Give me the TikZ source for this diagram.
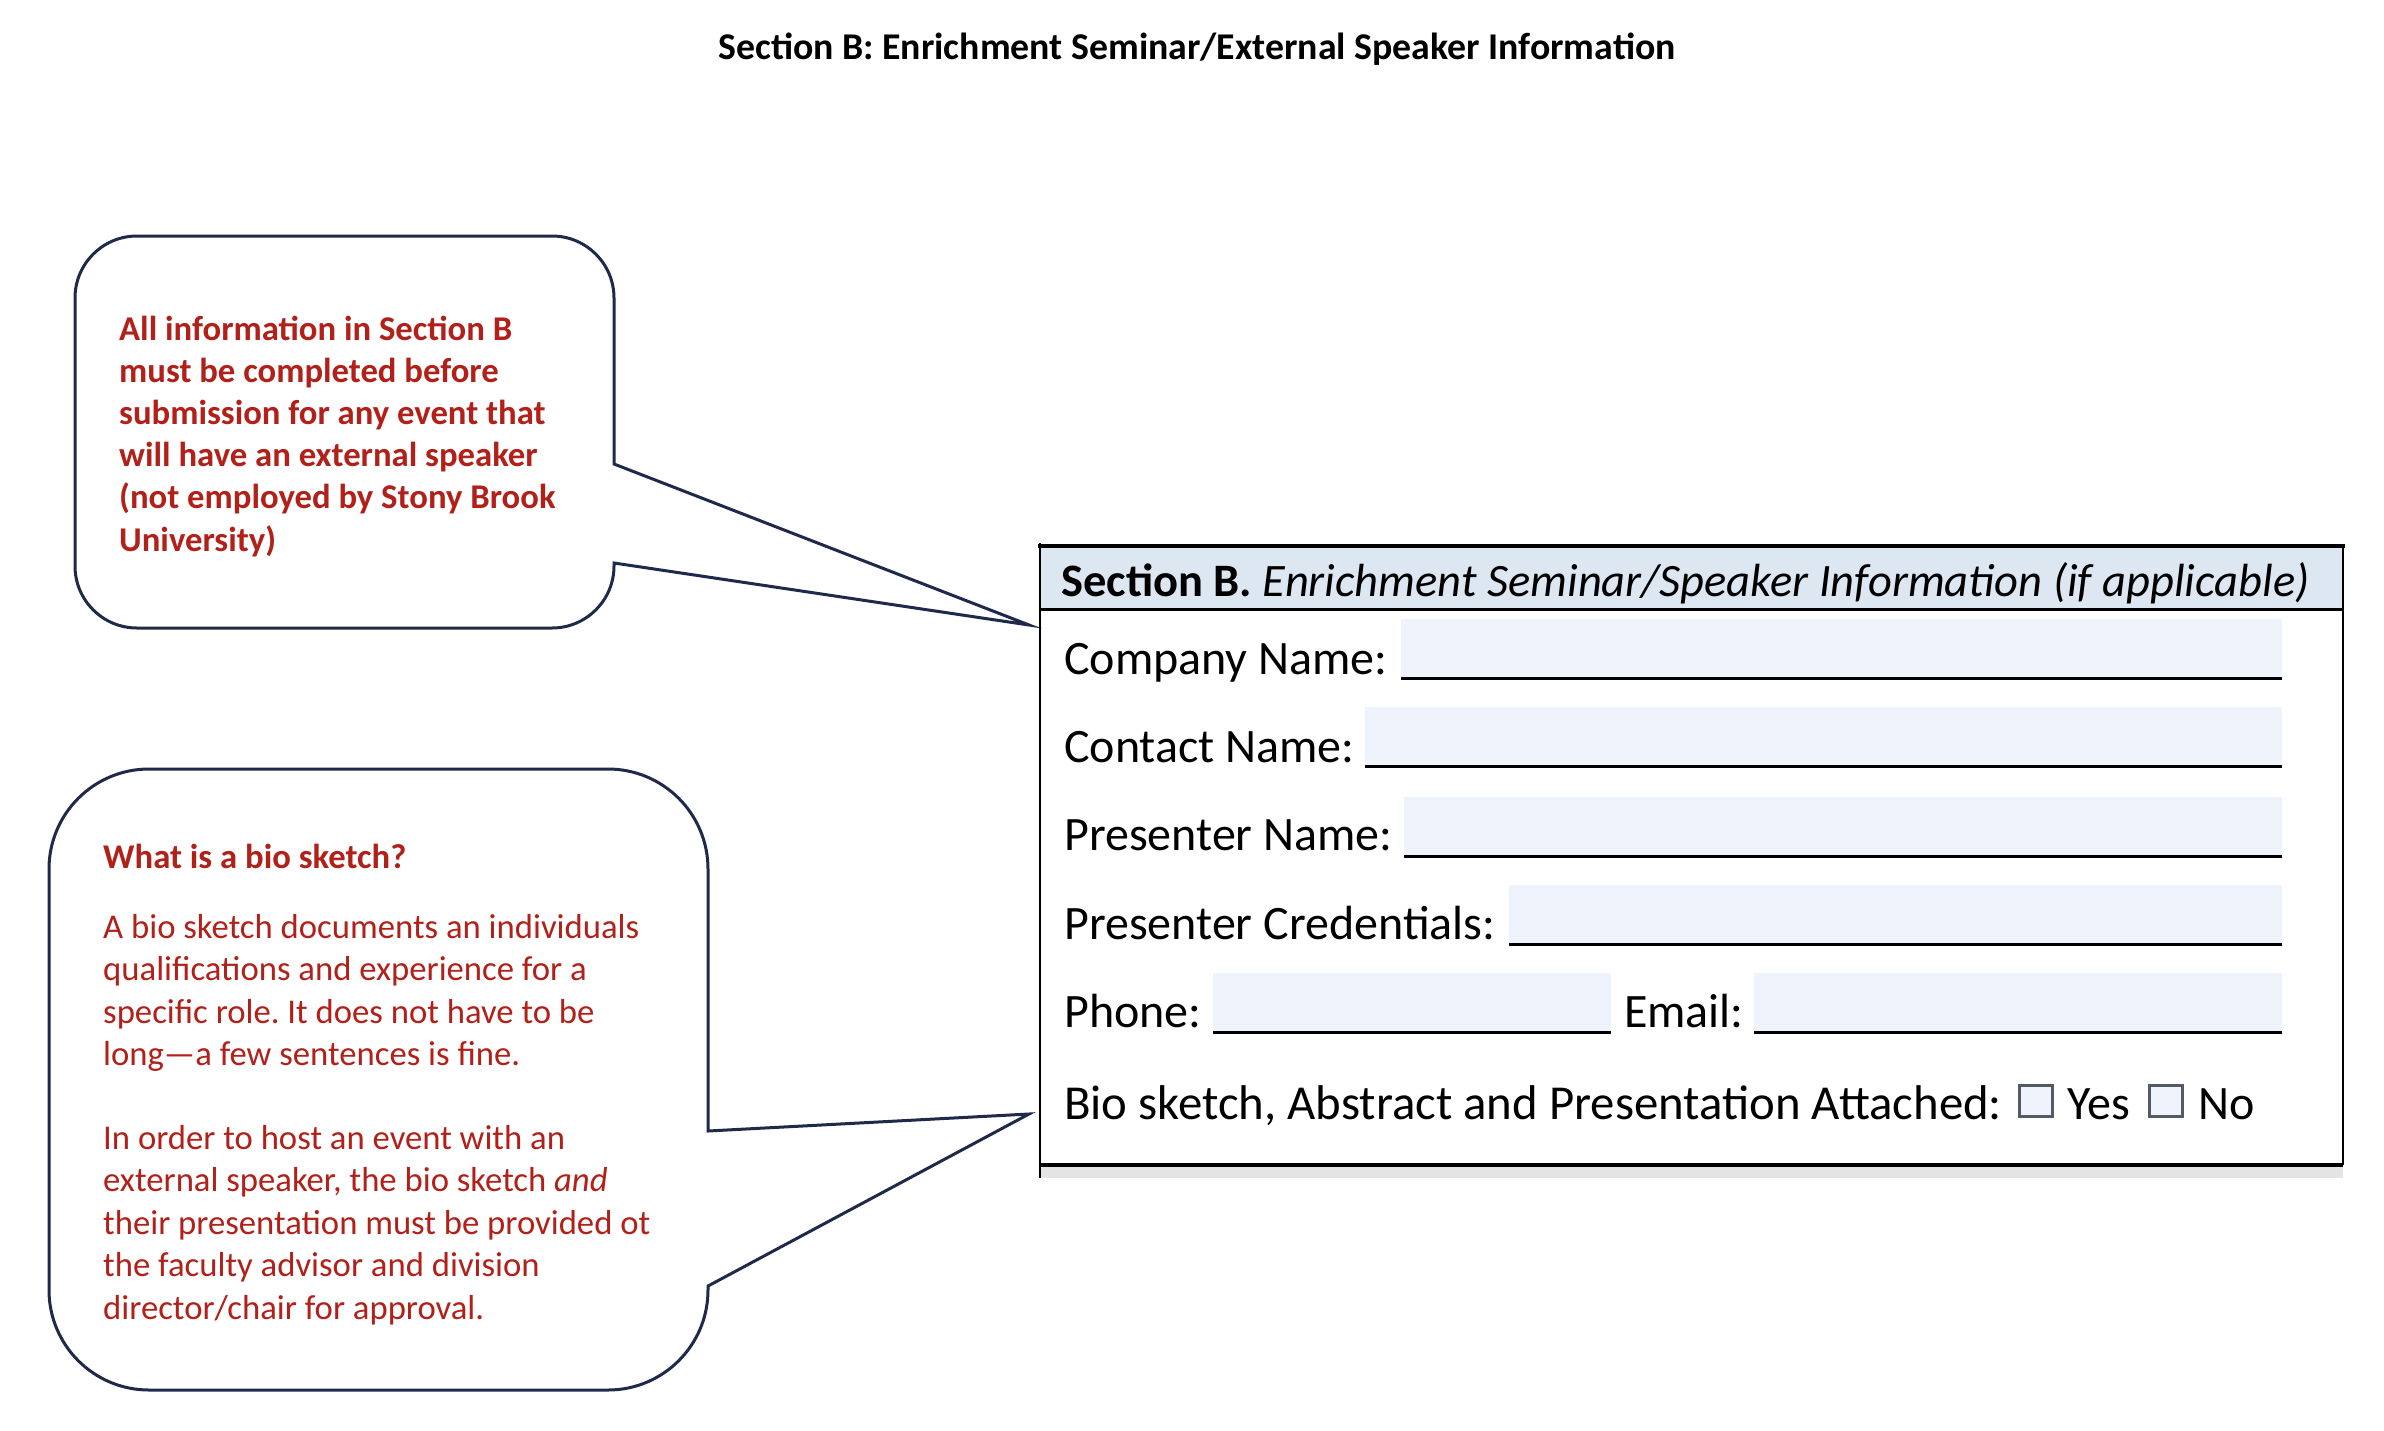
\documentclass[tikz,border=0pt]{standalone}
\usepackage{fontspec}
\setmainfont{Carlito}
\frenchspacing
\definecolor{calloutred}{RGB}{178,32,26}
\definecolor{navy}{RGB}{31,42,74}
\definecolor{hdrfill}{RGB}{221,231,242}
\definecolor{fieldfill}{RGB}{239,243,252}
\definecolor{stripgray}{RGB}{228,228,228}
\definecolor{boxgray}{RGB}{85,90,100}
\begin{document}
\begin{tikzpicture}[x=1pt,y=-1pt,
  callout/.style={draw=navy, line width=3pt, fill=white, line join=miter},
  ctextb/.style={anchor=base west, inner sep=0pt, text=calloutred, font=\bfseries\fontsize{34.7}{42}\selectfont},
  ctext/.style={anchor=base west, inner sep=0pt, text=calloutred, font=\fontsize{34.7}{42}\selectfont},
  lbl/.style={anchor=base west, inner sep=0pt, font=\fontsize{48}{58}\selectfont},
  field/.style={fill=fieldfill, inner sep=0pt, anchor=north west, minimum height=59pt},
  uline/.style={line width=3.5pt, black},
  chk/.style={draw=boxgray, fill=fieldfill, line width=3pt, minimum width=33pt, minimum height=31pt, inner sep=0pt, anchor=south west}
]
\useasboundingbox (0,0) rectangle (2384,1430);
\fill[white] (0,0) rectangle (2384,1430);

% title
\node[anchor=base, inner sep=0pt, font=\bfseries\fontsize{37.8}{44}\selectfont] (title) at (1197,59) {Section B: Enrichment Seminar/External Speaker Information};

% callout tips
\coordinate (tip1) at (1029,625);
\coordinate (tip2) at (1029,1114);

% callout 1
\draw[callout] (137,236) -- (552,236) arc[start angle=-90,end angle=0,radius=62]
  -- (614,464) -- (tip1) -- (614,563) -- (614,566) arc[start angle=0,end angle=90,radius=62]
  -- (137,628) arc[start angle=90,end angle=180,radius=62]
  -- (75,298) arc[start angle=180,end angle=270,radius=62] -- cycle;

% callout 2
\draw[callout] (149,769) -- (608,769) arc[start angle=-90,end angle=0,radius=100]
  -- (708,1131) -- (tip2) -- (708,1286) -- (708,1290) arc[start angle=0,end angle=90,radius=100]
  -- (149,1390) arc[start angle=90,end angle=180,radius=100]
  -- (49,869) arc[start angle=180,end angle=270,radius=100] -- cycle;

% callout 1 text
\foreach \t [count=\i from 0] in {{All information in Section B},{must be completed before},{submission for any event that},{will have an external speaker},{(not employed by Stony Brook},{University)}}
  \node[ctextb] (aa\i) at (119,{340+42.2*\i}) {\t};

% callout 2 text
\node[ctextb] (bioq) at (103,868) {What is a bio sketch?};
\foreach \t [count=\i from 0] in {{A bio sketch documents an individuals},{qualifications and experience for a},{specific role. It does not have to be},{long—a few sentences is fine.}}
  \node[ctext] (pa\i) at (103,{938+42.5*\i}) {\t};
\foreach \t [count=\i from 0] in {{In order to host an event with an},{external speaker, the bio sketch \textit{and}},{their presentation must be provided ot},{the faculty advisor and division},{director/chair for approval.}}
  \node[ctext] (pb\i) at (103,{1149+42.5*\i}) {\t};

% form frame
\fill[hdrfill] (1040,547) rectangle (2343,609);
\fill[stripgray] (1040,1165) rectangle (2343,1178);
\draw[line width=4pt] (1038,546) -- (2345,546);
\draw[line width=3pt] (1040,609) -- (2343,609);
\draw[line width=3.5pt] (1040,1165) -- (2343,1165);
\draw[line width=2.5pt] (1040,543) -- (1040,1178);
\draw[line width=2pt] (2343,547) -- (2343,1165);

\node[lbl, font=\fontsize{46.5}{56}\selectfont] (hdr) at (1061,596) {\textbf{Section B.} \textit{Enrichment Seminar/Speaker Information (if applicable)}};

% fields
\node[field, minimum width=881pt] (fcomp) at (1401,619) {};
\node[field, minimum width=917pt] (fcont) at (1365,707) {};
\node[field, minimum width=878pt] (fpres) at (1404,797) {};
\node[field, minimum width=773pt] (fcred) at (1509,885) {};
\node[field, minimum width=398pt] (fphone) at (1213,973) {};
\node[field, minimum width=528pt] (femail) at (1754,973) {};
\foreach \f in {fcomp,fcont,fpres,fcred,fphone,femail}
  \draw[uline] (\f.south west) -- (\f.south east);

\node[lbl] (lcomp) at (1064,674) {Company Name:};
\node[lbl] (lcont) at (1064,762) {Contact Name:};
\node[lbl] (lpres) at (1064,850) {Presenter Name:};
\node[lbl] (lcred) at (1064,939) {Presenter Credentials:};
\node[lbl] (lphone) at (1064,1027) {Phone:};
\node[lbl] (lemail) at (1624,1027) {Email:};
\node[lbl, font=\fontsize{48.8}{58}\selectfont] (lbio) at (1064,1119) {Bio sketch, Abstract and Presentation Attached:};
\node[chk] (cbyes) at (2018,1118) {};
\node[lbl] (lyes) at (2067,1119) {Yes};
\node[chk] (cbno) at (2148,1118) {};
\node[lbl] (lno) at (2198,1119) {No};
\end{tikzpicture}
\end{document}
